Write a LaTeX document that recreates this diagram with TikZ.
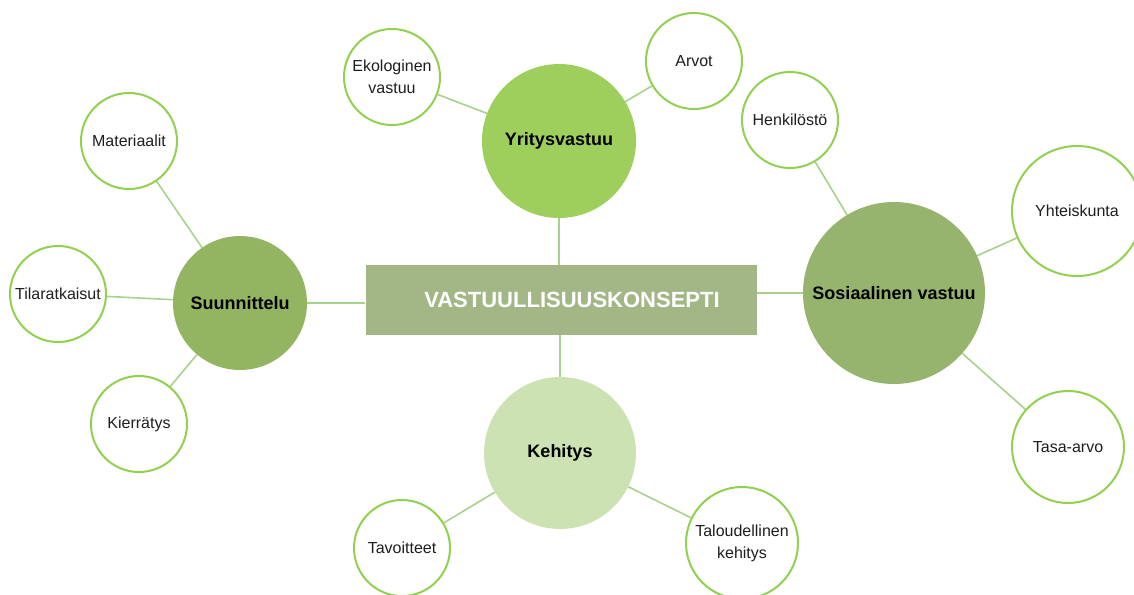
\documentclass[tikz,border=0pt]{standalone}
\usepackage{fontspec}
\setmainfont{Liberation Sans}
\usetikzlibrary{backgrounds}

\definecolor{leafline}{RGB}{146,208,80}
\definecolor{linkgreen}{RGB}{169,209,142}
\definecolor{textgray}{RGB}{30,30,30}
\definecolor{conceptfill}{RGB}{162,183,133}
\definecolor{yritysfill}{RGB}{158,206,92}
\definecolor{suunnfill}{RGB}{147,181,98}
\definecolor{sosfill}{RGB}{151,180,110}
\definecolor{kehitysfill}{RGB}{205,226,178}

\begin{document}
\begin{tikzpicture}[x=1pt, y=-1pt,
        hub/.style={circle, draw=none, inner sep=0pt, align=center, font=\fontsize{18}{22}\selectfont\bfseries},
        leaf/.style={circle, draw=leafline, line width=2pt, fill=white, inner sep=0pt, minimum size=96pt, align=center, text=textgray, font=\fontsize{16}{22}\selectfont},
        link/.style={draw=linkgreen, line width=1.6pt}
    ]
        \useasboundingbox (0,0) rectangle (1134,594);
        \clip (0,0) rectangle (1134,594);

        % Concept
        \node[rectangle, fill=conceptfill, minimum width=391pt, minimum height=70pt, inner sep=0pt, text=white, font=\fontsize{22}{26}\selectfont\bfseries] (konsepti) at (561,300) {\hspace*{22pt}VASTUULLISUUSKONSEPTI};

        % Main themes
        \node[hub, fill=yritysfill, minimum size=154pt] (yritys) at (559,141) {Yritysvastuu};
        \node[hub, fill=suunnfill, minimum size=134pt] (suunnittelu) at (240,303) {Suunnittelu};
        \node[hub, fill=sosfill, minimum size=182pt] (sosiaalinen) at (894,293) {Sosiaalinen vastuu};
        \node[hub, fill=kehitysfill, minimum size=152pt] (kehitys) at (560,453) {Kehitys};

        % Yritysvastuu
        \node[leaf] (ekologinen) at (392,77) {Ekologinen\\vastuu};
        \node[leaf] (arvot) at (694,61) {Arvot};

        % Suunnittelu
        \node[leaf] (materiaalit) at (129,141) {Materiaalit};
        \node[leaf] (tilaratkaisut) at (58,294) {Tilaratkaisut};
        \node[leaf] (kierratys) at (139,424) {Kierrätys};

        % Sosiaalinen vastuu
        \node[leaf] (henkilosto) at (790,120) {Henkilöstö};
        \node[leaf, minimum size=130pt] (yhteiskunta) at (1077,211) {Yhteiskunta};
        \node[leaf, minimum size=112pt] (tasaarvo) at (1068,447) {Tasa-arvo};

        % Kehitys
        \node[leaf] (tavoitteet) at (402,548) {Tavoitteet};
        \node[leaf, minimum size=112pt] (taloudellinen) at (742,543) {Taloudellinen\\kehitys};

        % Links
        \begin{scope}[on background layer]
            \draw[link] (yritys.south) -- (yritys.south |- konsepti.north);
            \draw[link] (kehitys.north) -- (kehitys.north |- konsepti.south);
            \draw[link] (suunnittelu.east) -- (suunnittelu.east -| konsepti.west);
            \draw[link] (sosiaalinen.west) -- (sosiaalinen.west -| konsepti.east);
            \foreach \leafname in {ekologinen, arvot}
                \draw[link] (yritys) -- (\leafname);
            \foreach \leafname in {materiaalit, tilaratkaisut, kierratys}
                \draw[link] (suunnittelu) -- (\leafname);
            \foreach \leafname in {henkilosto, yhteiskunta, tasaarvo}
                \draw[link] (sosiaalinen) -- (\leafname);
            \foreach \leafname in {tavoitteet, taloudellinen}
                \draw[link] (kehitys) -- (\leafname);
        \end{scope}

    \end{tikzpicture}
\end{document}
